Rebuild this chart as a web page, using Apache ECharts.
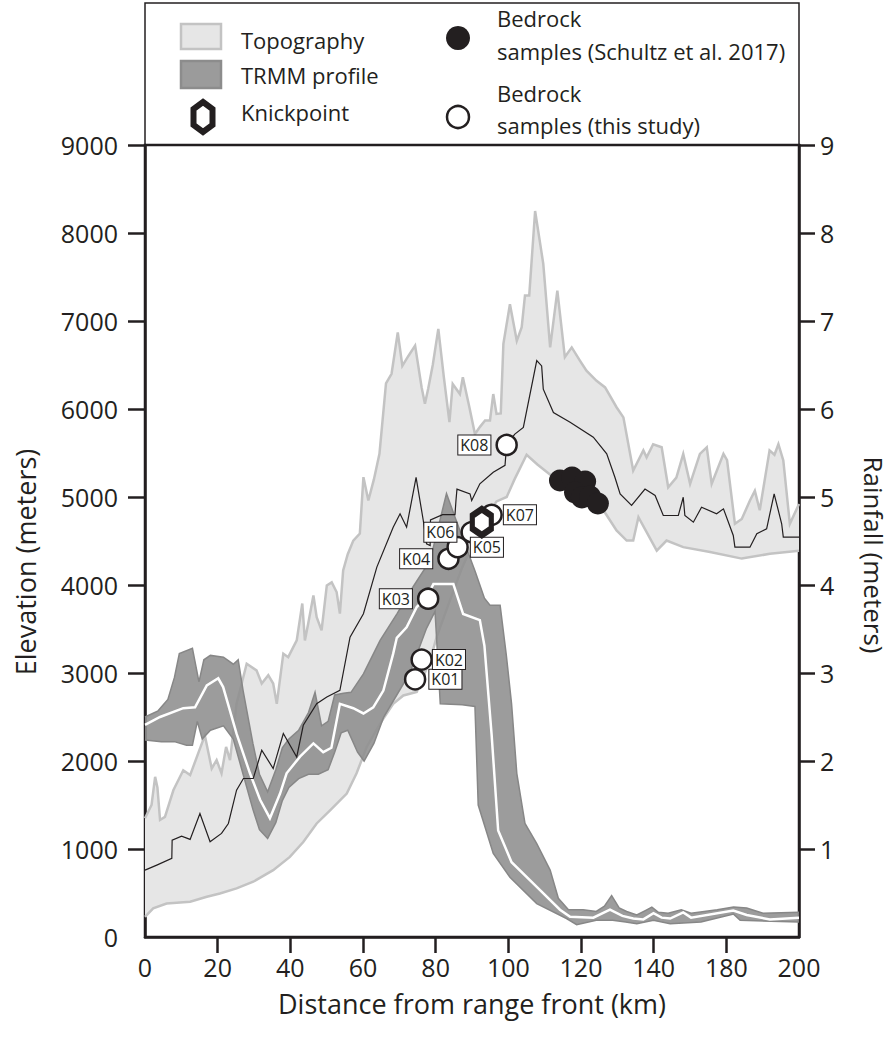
<!DOCTYPE html>
<html>
<head>
<meta charset="utf-8">
<script src="https://cdn.jsdelivr.net/npm/echarts@6/dist/echarts.min.js"></script>
<style>
html,body{margin:0;padding:0;background:#fff;}
#chart{width:894px;height:1046px;}
</style>
</head>
<body>
<div id="chart"></div>
<script>
// ---------------- DATA ----------------
// x in km (linear position along the plotted axis), elevations in metres, rainfall in metres
const xTickLabels = ['0','20','40','60','80','100','120','140','180','200'];
const yLeftTickLabels = [0,1000,2000,3000,4000,5000,6000,7000,8000,9000];
const yRightTickLabels = [1,2,3,4,5,6,7,8,9];

const topoMax = [[0,1350],[2,1500],[3.1,1820],[3.8,1700],[4.6,1330],[6.1,1365],[8.7,1670],[11.7,1895],[13.8,1840],[16.8,2140],[18.3,2290],[20.4,1915],[21.9,2010],[23.4,1860],[24.8,2160],[26,2010],[28,2650],[31.1,3105],[34.1,3030],[35.7,2880],[37.7,2975],[39.2,2880],[40.3,2650],[42.3,3220],[43.8,3180],[46.4,3370],[48.1,3790],[48.9,3370],[49.9,3560],[51.5,3880],[52.5,3635],[54,3485],[55.6,3995],[57.1,4030],[58.6,3920],[59.6,3675],[60.6,4165],[62,4350],[63.7,4505],[65.7,4585],[66.8,5225],[68.3,4960],[70,5200],[71.7,5490],[73.7,6290],[75.4,6400],[77.3,6870],[78.7,6490],[80.5,6600],[82.6,6720],[84.6,6245],[85.6,6060],[86.6,6230],[88,6500],[89.7,6910],[91.4,6360],[93.1,5850],[94.1,6285],[96.3,6170],[97.2,6360],[99.2,6020],[100.9,5715],[102.5,5800],[104,5870],[105.5,5870],[106.5,6170],[107.5,5945],[108.8,5950],[109.6,6740],[111.6,7190],[113.7,6775],[115.2,6930],[116.2,7290],[117.5,7290],[119.3,8250],[121.8,7650],[123.9,6700],[126.1,7345],[128.4,6590],[130.5,6700],[133,6550],[135,6435],[138.1,6320],[140.7,6245],[144.2,6020],[146.3,5905],[149.3,5300],[152.4,5530],[153.4,5450],[155.4,5600],[158,5565],[160,5110],[162.5,5220],[164.6,5490],[166.7,5150],[169.7,5490],[171.8,5565],[173.3,5150],[176.9,5490],[178,5420],[180.4,4695],[182.5,4750],[185,4960],[186.5,5070],[188,4850],[191,5530],[192.5,5480],[193.7,5600],[195.2,5415],[197.2,4695],[200,4920]];

const topoMin = [[0,230],[2.5,325],[6.6,380],[13.8,400],[18.9,457],[22.9,495],[28,553],[33.1,628],[39.2,760],[44.3,910],[48.4,1080],[52.5,1290],[56.6,1440],[61.7,1630],[64.7,1860],[67.8,2160],[71.9,2425],[75.9,2650],[79,2745],[83.1,2785],[87.2,3145],[89.2,3410],[93,3800],[97,4200],[100,4450],[104,4750],[107.5,4950],[110.6,5000],[113,5200],[116.7,5480],[120,5370],[124.9,5225],[129,5120],[133,5035],[136.5,4950],[140.2,4850],[144.2,4620],[147.3,4505],[149.3,4505],[150.9,4770],[153.4,4600],[156.5,4390],[159.5,4505],[164.6,4430],[172.8,4375],[182.5,4300],[191.1,4355],[200,4390]];

const topoMean = [[0,760],[3.6,817],[8.2,893],[8.3,1100],[11.2,1146],[13.8,1109],[16.8,1404],[19.9,1082],[23.4,1177],[25.5,1290],[28,1668],[30.1,1801],[33.1,1801],[35.7,2122],[39.2,1915],[42.3,2312],[46.4,2046],[48.4,2406],[52.5,2652],[55.6,2727],[59.6,2803],[62.7,3408],[66.8,3674],[70.9,4203],[75.9,4657],[78,4809],[80,4657],[82.9,5224],[85.1,4733],[86.1,4469],[87.2,4449],[87.3,4740],[91,4800],[94.8,4800],[95.1,4960],[95.4,5090],[99.4,5035],[99.9,4960],[102.4,5150],[106.5,5280],[110.1,5360],[110.6,5600],[113.1,5715],[115.7,5790],[119.8,6550],[121.3,6490],[121.8,6225],[124.9,5960],[130,5850],[137.1,5680],[141.2,5490],[143.7,5225],[145.3,5035],[148.8,4905],[152.9,5090],[156,5017],[158.5,4790],[163.1,4790],[164.6,4997],[165.1,4790],[167.7,4714],[170.2,4884],[174.8,4809],[176.9,4865],[179.9,4563],[180.4,4430],[185,4430],[187.1,4582],[190.1,4639],[192.4,5036],[194.7,4696],[195.2,4544],[200,4544]];

const trmmMean = [[0,2.41],[4.6,2.50],[11.7,2.60],[15.3,2.61],[18.9,2.86],[22.4,2.94],[23.9,2.84],[28,2.31],[32.1,1.86],[35.2,1.56],[38.2,1.35],[41.3,1.63],[43.3,1.86],[47.4,2.05],[51.5,2.20],[54.5,2.10],[57,2.15],[59.6,2.65],[63.7,2.60],[66.8,2.54],[69.8,2.61],[72.9,2.80],[75.9,3.22],[77,3.40],[80,3.52],[83.1,3.75],[86.1,3.86],[88.2,4.01],[94.3,4.01],[97.3,3.67],[102.4,3.60],[103.8,3.31],[106,2.30],[108,1.21],[112.1,0.85],[119.8,0.57],[126.9,0.31],[130,0.23],[137.1,0.22],[142.2,0.31],[146,0.24],[149.3,0.21],[152.4,0.20],[155.5,0.27],[158,0.22],[160.6,0.21],[164.6,0.28],[167,0.22],[179.9,0.30],[184,0.25],[191.1,0.20],[200,0.22]];

const trmmMax = [[0,2.50],[4,2.57],[7,2.70],[9,2.95],[10.5,3.22],[14.5,3.28],[16.5,2.90],[18,3.15],[20,3.20],[24,3.18],[27,3.10],[28.5,3.15],[30,2.80],[33,2.20],[35,1.85],[37.5,1.65],[40,1.90],[42,2.15],[44,2.25],[47,2.35],[50,2.55],[52,2.78],[54,2.40],[56,2.45],[58,2.75],[60.7,2.77],[63,2.78],[66.8,2.99],[71.9,3.37],[77,3.67],[82,3.98],[87.2,4.28],[92.2,5.04],[95,4.75],[98,4.45],[101,4.15],[103.8,3.85],[105.5,3.77],[108.6,3.77],[110.5,3.20],[112.1,2.65],[113.7,1.86],[116.2,1.29],[119.8,1.06],[123.9,0.76],[126.4,0.44],[129.5,0.31],[134,0.31],[138,0.29],[140.5,0.35],[142.7,0.47],[145,0.33],[147.3,0.29],[150.4,0.25],[153,0.30],[155,0.34],[157,0.28],[160,0.27],[164,0.31],[167,0.27],[175,0.31],[180,0.34],[184,0.33],[189,0.27],[200,0.28]];

const trmmMin = [[0,2.24],[5,2.22],[9,2.22],[12.7,2.18],[14.5,2.18],[16,2.45],[17.5,2.25],[20,2.35],[24,2.40],[27,2.25],[30,1.85],[33,1.45],[35,1.22],[37.5,1.12],[40,1.30],[42,1.55],[44,1.70],[47,1.80],[50,1.85],[53,1.85],[56,1.90],[58,2.10],[60,2.32],[62,2.35],[65,2.10],[67,2.00],[70,2.20],[73,2.50],[77,2.75],[81,3.00],[86,3.50],[88.7,3.70],[90.3,2.65],[97,2.64],[100.9,2.62],[101.9,1.50],[106.5,0.95],[111.6,0.68],[119.8,0.38],[128.9,0.21],[132,0.14],[138,0.19],[143,0.19],[147,0.17],[150.4,0.15],[155.5,0.19],[160.6,0.15],[170,0.17],[180,0.26],[182,0.19],[200,0.17]];

const sampleIds = ['K01','K02','K03','K04','K05','K06','K07','K08'];
const sampleKm = [82.6,84.6,86.6,92.8,95.6,99.9,106.0,110.6];
const sampleElev = [2928,3152,3844,4298,4430,4600,4797,5592];

const schultzKm = [126.9,130.6,134.6,131.5,133.6,136.1,138.5];
const schultzElev = [5187,5221,5176,5051,4994,5006,4926];

const knickKm = [103.0];
const knickElev = [4714];

// ---------------- STYLE / LAYOUT ----------------
const INK = '#231f20';
const FONT = '"Open Sans", "Noto Sans", sans-serif';
const step = 200 / 9;
const hexPath = 'path://M0,-10L8.66,-5L8.66,5L0,10L-8.66,5L-8.66,-5Z';

// label placement for each sample tag (style only)
const tagPlace = [
  {position:'right', distance:3, offset:[0,17]},
  {position:'right', distance:0, offset:[-2,0]},
  {position:'left',  distance:5, offset:[0,-4]},
  {position:'left',  distance:5, offset:[0,2]},
  {position:'right', distance:2, offset:[0,9]},
  {position:'left',  distance:4, offset:[0,-10]},
  {position:'right', distance:1, offset:[0,2]},
  {position:'left',  distance:5, offset:[0,3]}
];

function band(upper, lower, yIdx, style, z) {
  return {
    type: 'custom', yAxisIndex: yIdx, z: z, silent: true,
    data: [[100, yIdx === 0 ? 1000 : 1]],
    renderItem: function (params, api) {
      const pts = upper.map(p => api.coord(p))
        .concat(lower.slice().reverse().map(p => api.coord(p)));
      return { type: 'polygon', shape: { points: pts }, style: style };
    }
  };
}
function line(data, yIdx, color, width, z, opacity) {
  return {
    type: 'line', yAxisIndex: yIdx, data: data, z: z, silent: true,
    showSymbol: false, symbol: 'none', animation: false,
    lineStyle: { color: color, width: width, opacity: opacity == null ? 1 : opacity, join: 'miter' }
  };
}

const chart = echarts.init(document.getElementById('chart'), null, { renderer: 'svg' });

const axisLabelStyle = { color: INK, fontFamily: FONT, fontSize: 25, lineHeight: 24 };
const LEG = '22px ' + FONT;

const option = {
  animation: false,
  backgroundColor: '#fff',
  grid: { left: 145, right: 95, top: 145, bottom: 109, show: true, borderColor: INK, borderWidth: 2.5,
    backgroundColor: 'transparent', containLabel: false, outerBoundsMode: 'none' },
  xAxis: {
    type: 'value', min: 0, max: 200, interval: step,
    name: 'Distance from range front (km)', nameLocation: 'middle', nameGap: 53,
    nameTextStyle: { color: INK, fontFamily: FONT, fontSize: 27, lineHeight: 27 },
    axisLine: { lineStyle: { color: INK, width: 2.5 } },
    axisTick: { length: 16, lineStyle: { color: INK, width: 2.5 },
      customValues: [1,2,3,4,5,6,7,8].map(i => i * step) },
    axisLabel: Object.assign({ margin: 18,
      customValues: xTickLabels.map((_, i) => Math.min(i * step, 200)),
      formatter: v => xTickLabels[Math.round(v / step)] }, axisLabelStyle),
    splitLine: { show: false }
  },
  yAxis: [
    {
      type: 'value', min: 0, max: 9000, interval: 1000, position: 'left',
      name: 'Elevation (meters)', nameLocation: 'middle', nameGap: 106, nameRotate: 90,
      nameTextStyle: { color: INK, fontFamily: FONT, fontSize: 27, padding: [0, 42, 0, 0] },
      axisLine: { show: true, lineStyle: { color: INK, width: 2.5 } },
      axisTick: { show: true, length: 17, lineStyle: { color: INK, width: 2.5 },
        customValues: yLeftTickLabels.slice(1) },
      axisLabel: Object.assign({ margin: 27, customValues: yLeftTickLabels, formatter: v => String(v) }, axisLabelStyle),
      splitLine: { show: false }
    },
    {
      type: 'value', min: 0, max: 9, interval: 1, position: 'right',
      name: 'Rainfall (meters)', nameLocation: 'middle', nameGap: 62, nameRotate: -90,
      nameTextStyle: { color: INK, fontFamily: FONT, fontSize: 26, padding: [0, 0, 0, 28] },
      axisLine: { show: true, lineStyle: { color: INK, width: 2.5 } },
      axisTick: { show: true, length: 16, lineStyle: { color: INK, width: 2.5 },
        customValues: yRightTickLabels },
      axisLabel: Object.assign({ margin: 21, customValues: yRightTickLabels, formatter: v => String(v) }, axisLabelStyle),
      splitLine: { show: false }
    }
  ],
  series: [
    band(topoMax, topoMin, 0, { fill: '#e6e6e6' }, 1),
    line(topoMax, 0, '#c3c3c3', 2.5, 2),
    line(topoMin, 0, '#c3c3c3', 2.5, 2),
    band(trmmMax, trmmMin, 1, { fill: '#8e8e8e', opacity: 0.88 }, 3),
    line(trmmMax, 1, '#878787', 1.5, 3),
    line(trmmMin, 1, '#878787', 1.5, 3),
    line(trmmMean, 1, '#ffffff', 2.5, 4),
    line(topoMean, 0, INK, 1.2, 5),
    {
      type: 'scatter', yAxisIndex: 0, z: 6, silent: true,
      symbol: 'circle', symbolSize: 22,
      itemStyle: { color: INK, opacity: 1 },
      data: schultzKm.map((k, i) => [k, schultzElev[i]])
    },
    {
      type: 'scatter', yAxisIndex: 0, z: 7, silent: true,
      symbol: 'circle', symbolSize: 20,
      itemStyle: { color: '#fff', borderColor: INK, borderWidth: 2.5, opacity: 1 },
      label: { show: true, formatter: '{b}', color: INK, fontFamily: FONT, fontSize: 16, lineHeight: 17,
        backgroundColor: '#fff', borderColor: INK, borderWidth: 1, padding: [1, 2] },
      labelLayout: { hideOverlap: false },
      data: sampleIds.map((id, i) => ({ name: id, value: [sampleKm[i], sampleElev[i]], label: tagPlace[i] }))
    },
    {
      type: 'scatter', yAxisIndex: 0, z: 8, silent: true,
      symbol: hexPath, symbolSize: [19, 26],
      itemStyle: { color: '#fff', borderColor: INK, borderWidth: 6, opacity: 1 },
      data: knickKm.map((k, i) => [k, knickElev[i]])
    }
  ],
  graphic: [
    { type: 'rect', shape: { x: 145, y: 3, width: 654, height: 142 }, style: { fill: 'none', stroke: INK, lineWidth: 1.5 }, z: 10 },
    { type: 'rect', shape: { x: 181, y: 24, width: 40, height: 25 }, style: { fill: '#e6e6e6', stroke: '#c3c3c3', lineWidth: 2.5 }, z: 10 },
    { type: 'rect', shape: { x: 181, y: 61, width: 40, height: 27 }, style: { fill: '#9b9b9b', stroke: '#8c8c8c', lineWidth: 2.5 }, z: 10 },
    { type: 'polygon', shape: { points: [[203,102],[212.5,109],[212.5,125],[203,132],[193.5,125],[193.5,109]] }, style: { fill: '#fff', stroke: INK, lineWidth: 6, lineJoin: 'miter' }, z: 10 },
    { type: 'text', x: 241, y: 40, style: { text: 'Topography', font: LEG, fill: INK, verticalAlign: 'middle' }, z: 10 },
    { type: 'text', x: 241, y: 75, style: { text: 'TRMM profile', font: LEG, fill: INK, verticalAlign: 'middle' }, z: 10 },
    { type: 'text', x: 241, y: 112, style: { text: 'Knickpoint', font: LEG, fill: INK, verticalAlign: 'middle' }, z: 10 },
    { type: 'circle', shape: { cx: 458, cy: 38, r: 12 }, style: { fill: INK }, z: 10 },
    { type: 'text', x: 497, y: 18, style: { text: 'Bedrock', font: LEG, fill: INK, verticalAlign: 'middle' }, z: 10 },
    { type: 'text', x: 497, y: 51, style: { text: 'samples (Schultz et al. 2017)', font: LEG, fill: INK, verticalAlign: 'middle' }, z: 10 },
    { type: 'circle', shape: { cx: 458, cy: 117, r: 11 }, style: { fill: '#fff', stroke: INK, lineWidth: 2.5 }, z: 10 },
    { type: 'text', x: 497, y: 93, style: { text: 'Bedrock', font: LEG, fill: INK, verticalAlign: 'middle' }, z: 10 },
    { type: 'text', x: 497, y: 125, style: { text: 'samples (this study)', font: LEG, fill: INK, verticalAlign: 'middle' }, z: 10 }
  ]
};
chart.setOption(option);
</script>
</body>
</html>
